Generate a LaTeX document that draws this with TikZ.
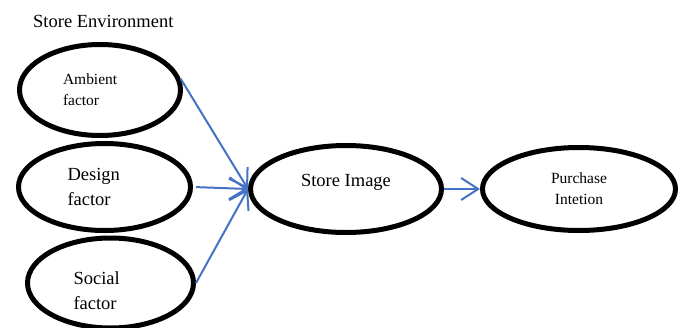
\documentclass[tikz,border=0pt]{standalone}
\usepackage{fontspec}
\setmainfont{Liberation Serif}
\usetikzlibrary{arrows.meta,shapes.geometric}
\definecolor{linkblue}{RGB}{68,114,196}

\begin{document}
\begin{tikzpicture}[x=1pt,y=-1pt,
  factor/.style={ellipse,draw,line width=5pt,inner sep=0pt,align=left,text width=74pt},
  stage/.style={ellipse,draw,line width=5pt,inner sep=0pt,align=center},
  big/.style={font=\fontsize{18.5}{25}\selectfont},
  small/.style={font=\fontsize{15.5}{21}\selectfont},
  link/.style={draw=linkblue,line width=2pt,-{Straight Barb[length=17pt,width=22pt]}}]
\clip (0,0) rectangle (686,327);

% Heading
\node[big,anchor=base west,inner sep=0pt] (envlabel) at (33,27) {Store Environment};

% Store environment factors
\node[factor,small,minimum width=161pt,minimum height=91pt] (amb) at (100,90) {Ambient\\factor};
\node[factor,big,minimum width=172pt,minimum height=87pt] (des) at (104.5,187) {Design\\factor};
\node[factor,big,minimum width=166pt,minimum height=90pt,text depth=9pt] (soc) at (110.5,283) {Social\\factor};

% Image and intention
\node[stage,big,text depth=18pt,minimum width=191pt,minimum height=87pt] (img) at (346,189) {Store Image};
\node[stage,small,minimum width=193pt,minimum height=83pt] (pur) at (579,189) {Purchase\\Intetion};

% Links
\draw[link] (amb.8) -- (img.west);
\draw[link,shorten <=3pt] (des.east) -- (img.west);
\draw[link] (soc.east) -- (img.west);
\draw[link] (img.east) -- (pur.west);

\end{tikzpicture}
\end{document}
